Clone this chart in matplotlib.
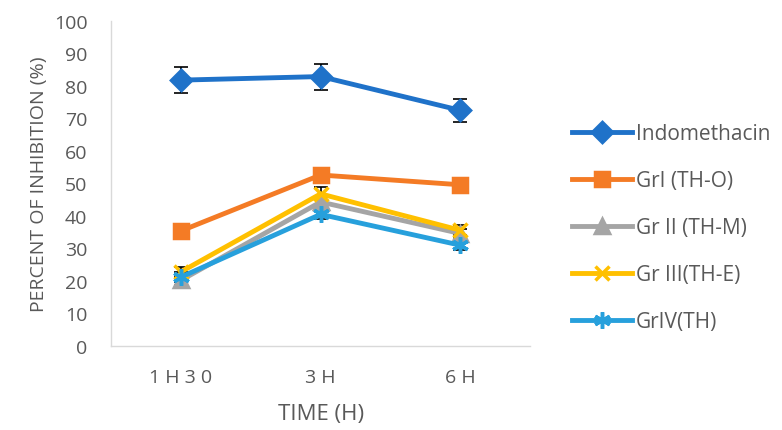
import matplotlib.pyplot as plt
import numpy as np

plt.rcParams['font.family'] = ['Open Sans', 'DejaVu Sans']

times = ["1 H 3 0", "3 H", "6 H"]
names = ["Indomethacin", "GrI (TH-O)", "Gr II (TH-M)", "Gr III(TH-E)", "GrIV(TH)"]
indo = [81.8, 82.9, 72.5]
gr1 = [35.4, 52.6, 49.6]
gr2 = [20.2, 44.3, 34.6]
gr3 = [22.8, 46.8, 35.6]
gr4 = [21.2, 40.5, 31.0]
indo_err = [4.1, 4.0, 3.5]
gr1_err = [0.8, 0.8, 0.8]
gr2_err = [1.5, 1.5, 1.5]
gr3_err = [1.5, 2.0, 1.5]
gr4_err = [1.5, 1.5, 1.5]

series = [indo, gr1, gr2, gr3, gr4]
errs = [indo_err, gr1_err, gr2_err, gr3_err, gr4_err]
colors = ["#1f72c9", "#f47b25", "#a5a5a5", "#ffc000", "#27a0dc"]
markers = ["D", "s", "^", "x", (6, 2, 0)]
msizes = [10, 10, 10, 10, 12]

fig = plt.figure(figsize=(7.82, 4.31), dpi=100)
ax = fig.add_axes([0.142, 0.195, 0.536, 0.754])
x = np.arange(len(times)) + 0.5

handles = []
for vals, e, c, m, ms, n in zip(series, errs, colors, markers, msizes, names):
    ax.errorbar(x, vals, yerr=e, fmt="none", ecolor="black", elinewidth=1.2,
                capsize=5, capthick=1.2, zorder=2)
    h, = ax.plot(x, vals, color=c, lw=3.5, marker=m, ms=ms, mew=2.5,
                 mfc=c, mec=c, label=n, zorder=3)
    handles.append(h)

ax.set_xlim(0, 3)
ax.set_ylim(0, 100)
ax.set_yticks(range(0, 101, 10))
ax.set_xticks(x)
ax.set_xticklabels(times)
ax.tick_params(colors="#595959", labelsize=14, length=0)
ax.tick_params(axis="y", pad=17)
ax.tick_params(axis="x", pad=16)
for s in ["top", "right"]:
    ax.spines[s].set_visible(False)
for s in ["left", "bottom"]:
    ax.spines[s].set_color("#d9d9d9")
    ax.spines[s].set_linewidth(1)
ax.set_xlabel("TIME (H)", color="#595959", fontsize=16, labelpad=12)
ax.set_ylabel("PERCENT OF INHIBITION (%)", color="#595959", fontsize=14, labelpad=4)

fig.legend(handles=handles, loc="center left", bbox_to_anchor=(0.707, 0.47),
           frameon=False, fontsize=15, labelcolor="#595959", handlelength=2.9,
           labelspacing=1.25, handletextpad=0.2)

fig.savefig("out.png", dpi=100)
